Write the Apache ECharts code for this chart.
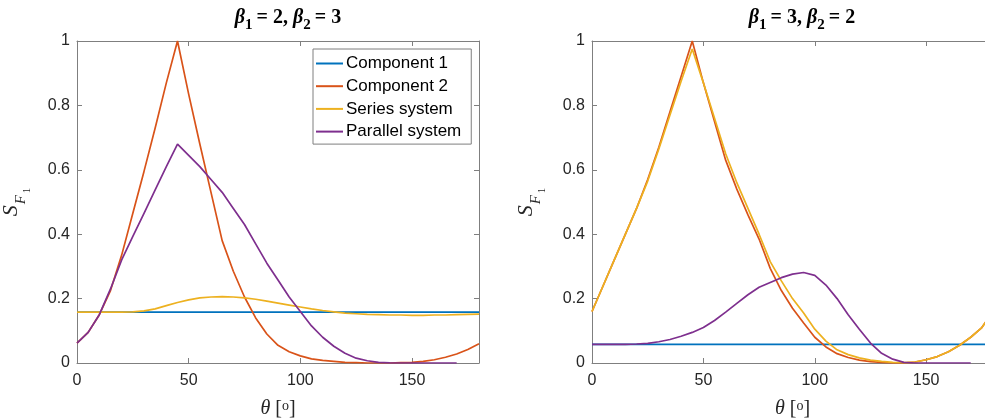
<!DOCTYPE html>
<html>
<head>
<meta charset="utf-8">
<title>S_F1 vs theta</title>
<script src="https://cdn.jsdelivr.net/npm/echarts@6/dist/echarts.min.js"></script>
<style>
  html, body { margin: 0; padding: 0; background: #fff; }
  #chart { width: 985px; height: 418px; }
</style>
</head>
<body>
<div id="chart"></div>
<script>
// theta in degrees, sampled every 5
const theta = [0, 5, 10, 15, 20, 25, 30, 35, 40, 45, 50, 55, 60, 65, 70, 75, 80, 85, 90,
  95, 100, 105, 110, 115, 120, 125, 130, 135, 140, 145, 150, 155, 160, 165, 170, 175, 180];

const xTicks = [0, 50, 100, 150];
const yTicks = [0, 0.2, 0.4, 0.6, 0.8, 1];
const seriesNames = ['Component 1', 'Component 2', 'Series system', 'Parallel system'];

// left panel: beta1 = 2, beta2 = 3
const leftComp1 = [0.158, 0.158, 0.158, 0.158, 0.158, 0.158, 0.158, 0.158, 0.158, 0.158, 0.158, 0.158, 0.158,
  0.158, 0.158, 0.158, 0.158, 0.158, 0.158, 0.158, 0.158, 0.158, 0.158, 0.158, 0.158, 0.158, 0.158,
  0.158, 0.158, 0.158, 0.158, 0.158, 0.158, 0.158, 0.158, 0.158, 0.158];
const leftComp2 = [0.062, 0.095, 0.15, 0.225, 0.335, 0.465, 0.595, 0.73, 0.87, 1.0, 0.835, 0.68, 0.53,
  0.38, 0.285, 0.205, 0.14, 0.09, 0.055, 0.035, 0.022, 0.013, 0.008, 0.005, 0.002, 0.001, 0,
  0, 0, 0.001, 0.002, 0.005, 0.01, 0.018, 0.028, 0.042, 0.06];
const leftSeries = [0.158, 0.158, 0.158, 0.158, 0.158, 0.159, 0.162, 0.168, 0.178, 0.188, 0.196, 0.202, 0.205,
  0.206, 0.205, 0.202, 0.198, 0.192, 0.186, 0.18, 0.174, 0.168, 0.163, 0.159, 0.155, 0.153, 0.151,
  0.15, 0.149, 0.149, 0.148, 0.148, 0.149, 0.149, 0.15, 0.151, 0.152];
// parallel system stops at 170
const leftParallel = [0.062, 0.095, 0.15, 0.23, 0.32, 0.393, 0.465, 0.538, 0.61, 0.68, 0.645, 0.61, 0.57,
  0.53, 0.48, 0.43, 0.37, 0.31, 0.258, 0.205, 0.16, 0.115, 0.08, 0.052, 0.03, 0.015, 0.007,
  0.002, 0.0005, 0, 0, 0, 0, 0, 0];

// right panel: beta1 = 3, beta2 = 2
const rightComp1 = [0.058, 0.058, 0.058, 0.058, 0.058, 0.058, 0.058, 0.058, 0.058, 0.058, 0.058, 0.058, 0.058,
  0.058, 0.058, 0.058, 0.058, 0.058, 0.058, 0.058, 0.058, 0.058, 0.058, 0.058, 0.058, 0.058, 0.058,
  0.058, 0.058, 0.058, 0.058, 0.058, 0.058, 0.058, 0.058, 0.058, 0.058];
const rightComp2 = [0.16, 0.24, 0.32, 0.40, 0.48, 0.57, 0.67, 0.78, 0.89, 1.0, 0.87, 0.75, 0.63,
  0.54, 0.46, 0.385, 0.294, 0.225, 0.17, 0.124, 0.08, 0.05, 0.029, 0.017, 0.009, 0.004, 0.002,
  0, 0, 0.003, 0.01, 0.02, 0.035, 0.055, 0.08, 0.11, 0.16];
const rightSeries = [0.16, 0.24, 0.32, 0.40, 0.48, 0.565, 0.665, 0.77, 0.875, 0.975, 0.87, 0.76, 0.65,
  0.56, 0.48, 0.40, 0.315, 0.255, 0.2, 0.155, 0.105, 0.068, 0.041, 0.026, 0.016, 0.009, 0.005,
  0.002, 0.001, 0.003, 0.01, 0.02, 0.035, 0.055, 0.08, 0.11, 0.16];
const rightParallel = [0.058, 0.058, 0.058, 0.058, 0.059, 0.061, 0.066, 0.073, 0.083, 0.095, 0.11, 0.132, 0.158,
  0.185, 0.212, 0.235, 0.25, 0.265, 0.276, 0.281, 0.272, 0.242, 0.2, 0.15, 0.105, 0.062, 0.03,
  0.012, 0.002, 0, 0, 0, 0, 0, 0];

const colors = ['#0072BD', '#D95319', '#EDB120', '#7E2F8E'];
const axisGray = '#7f7f7f';
const textDark = '#262626';

function pairs(ys) {
  return ys.map((v, i) => [theta[i], v]);
}

// rich styles for the TeX-like labels
const serif = 'Liberation Serif';
const titleRich = {
  b: { fontFamily: serif, fontStyle: 'italic', fontWeight: 'bold', fontSize: 20, color: '#000', verticalAlign: 'bottom', padding: [0, 0, 5, 0] },
  s: { fontFamily: serif, fontWeight: 'bold', fontSize: 15, color: '#000', verticalAlign: 'bottom' },
  t: { fontFamily: serif, fontWeight: 'bold', fontSize: 20, color: '#000', verticalAlign: 'bottom', padding: [0, 0, 5, 0] }
};
const yNameRich = {
  S: { fontFamily: serif, fontStyle: 'italic', fontSize: 22, color: textDark, verticalAlign: 'bottom', padding: [0, 0, 11, 0] },
  F: { fontFamily: serif, fontStyle: 'italic', fontSize: 15, color: textDark, verticalAlign: 'bottom', padding: [0, 0, 4, 1] },
  one: { fontFamily: serif, fontSize: 11, color: textDark, verticalAlign: 'bottom', padding: [0, 0, 0, 2] }
};
const xNameRich = {
  th: { fontFamily: serif, fontStyle: 'italic', fontSize: 20, color: textDark, verticalAlign: 'bottom' },
  br: { fontFamily: serif, fontSize: 20, color: textDark, verticalAlign: 'bottom' },
  sup: { fontFamily: serif, fontSize: 14, color: textDark, verticalAlign: 'top' }
};

function bottomAxis(grid) {
  return {
    type: 'value', gridIndex: grid, position: 'bottom', min: 0, max: 180, interval: 50,
    axisLine: { onZero: false, lineStyle: { color: axisGray, width: 1 } },
    axisTick: { inside: true, length: 5, lineStyle: { color: axisGray } },
    axisLabel: {
      color: textDark, fontFamily: 'Liberation Sans', fontSize: 16, margin: 10,
      formatter: v => (xTicks.indexOf(v) >= 0 ? String(v) : '')
    },
    splitLine: { show: false },
    name: '{th|θ}{br| [}{sup|o}{br|]}', nameLocation: 'middle', nameGap: 36,
    nameTextStyle: { rich: xNameRich }
  };
}
function topAxis(grid) {
  return {
    type: 'value', gridIndex: grid, position: 'top', min: 0, max: 180, interval: 50,
    axisLine: { onZero: false, lineStyle: { color: axisGray, width: 1 } },
    axisTick: { inside: true, length: 5, lineStyle: { color: axisGray } },
    axisLabel: { show: false }, splitLine: { show: false }
  };
}
function leftAxis(grid) {
  return {
    type: 'value', gridIndex: grid, position: 'left', min: 0, max: 1, interval: 0.2,
    axisLine: { show: true, onZero: false, lineStyle: { color: axisGray, width: 1 } },
    axisTick: { show: true, inside: true, length: 5, lineStyle: { color: axisGray } },
    axisLabel: {
      color: textDark, fontFamily: 'Liberation Sans', fontSize: 16, margin: 7,
      formatter: v => String(+v.toFixed(1))
    },
    splitLine: { show: false },
    name: '{S|S}{F|F}{one|1}', nameLocation: 'middle', nameGap: 44, nameRotate: 90,
    nameTextStyle: { rich: yNameRich }
  };
}
function rightAxis(grid) {
  return {
    type: 'value', gridIndex: grid, position: 'right', min: 0, max: 1, interval: 0.2,
    axisLine: { show: true, onZero: false, lineStyle: { color: axisGray, width: 1 } },
    axisTick: { show: true, inside: true, length: 5, lineStyle: { color: axisGray } },
    axisLabel: { show: false }, splitLine: { show: false }
  };
}

function lineSeries(name, ys, idx, grid) {
  return {
    name: name, type: 'line', data: pairs(ys),
    xAxisIndex: grid * 2, yAxisIndex: grid * 2,
    symbol: 'none', smooth: false, animation: false,
    lineStyle: { color: colors[idx], width: 1.7 },
    itemStyle: { color: colors[idx] }
  };
}

const chart = echarts.init(document.getElementById('chart'), null, { renderer: 'canvas' });

const option = {
  backgroundColor: '#fff',
  animation: false,
  title: [
    { text: '{b|β}{s|1}{t|\u2009= 2, }{b|β}{s|2}{t|\u2009= 3}', left: 283, top: 3, textAlign: 'center', textStyle: { rich: titleRich } },
    { text: '{b|β}{s|1}{t|\u2009= 3, }{b|β}{s|2}{t|\u2009= 2}', left: 797, top: 3, textAlign: 'center', textStyle: { rich: titleRich } }
  ],
  legend: {
    orient: 'vertical', left: 313, top: 49,
    data: seriesNames,
    icon: 'rect',
    itemWidth: 27, itemHeight: 2, itemGap: 5.7,
    padding: [6, 10, 4, 3],
    backgroundColor: '#fff', borderColor: axisGray, borderWidth: 1, borderRadius: 0,
    textStyle: { color: '#000', fontFamily: 'Liberation Sans', fontSize: 17, padding: [0, 0, 0, -2] }
  },
  grid: [
    { left: 77, top: 41, width: 402, height: 322, containLabel: false, outerBoundsMode: 'none' },
    { left: 592, top: 41, width: 401, height: 322, containLabel: false, outerBoundsMode: 'none' }
  ],
  xAxis: [bottomAxis(0), topAxis(0), bottomAxis(1), topAxis(1)],
  yAxis: [leftAxis(0), rightAxis(0), leftAxis(1), rightAxis(1)],
  series: [
    lineSeries(seriesNames[0], leftComp1, 0, 0),
    lineSeries(seriesNames[1], leftComp2, 1, 0),
    lineSeries(seriesNames[2], leftSeries, 2, 0),
    lineSeries(seriesNames[3], leftParallel, 3, 0),
    lineSeries(seriesNames[0], rightComp1, 0, 1),
    lineSeries(seriesNames[1], rightComp2, 1, 1),
    lineSeries(seriesNames[2], rightSeries, 2, 1),
    lineSeries(seriesNames[3], rightParallel, 3, 1)
  ]
};

chart.setOption(option);
</script>
</body>
</html>
